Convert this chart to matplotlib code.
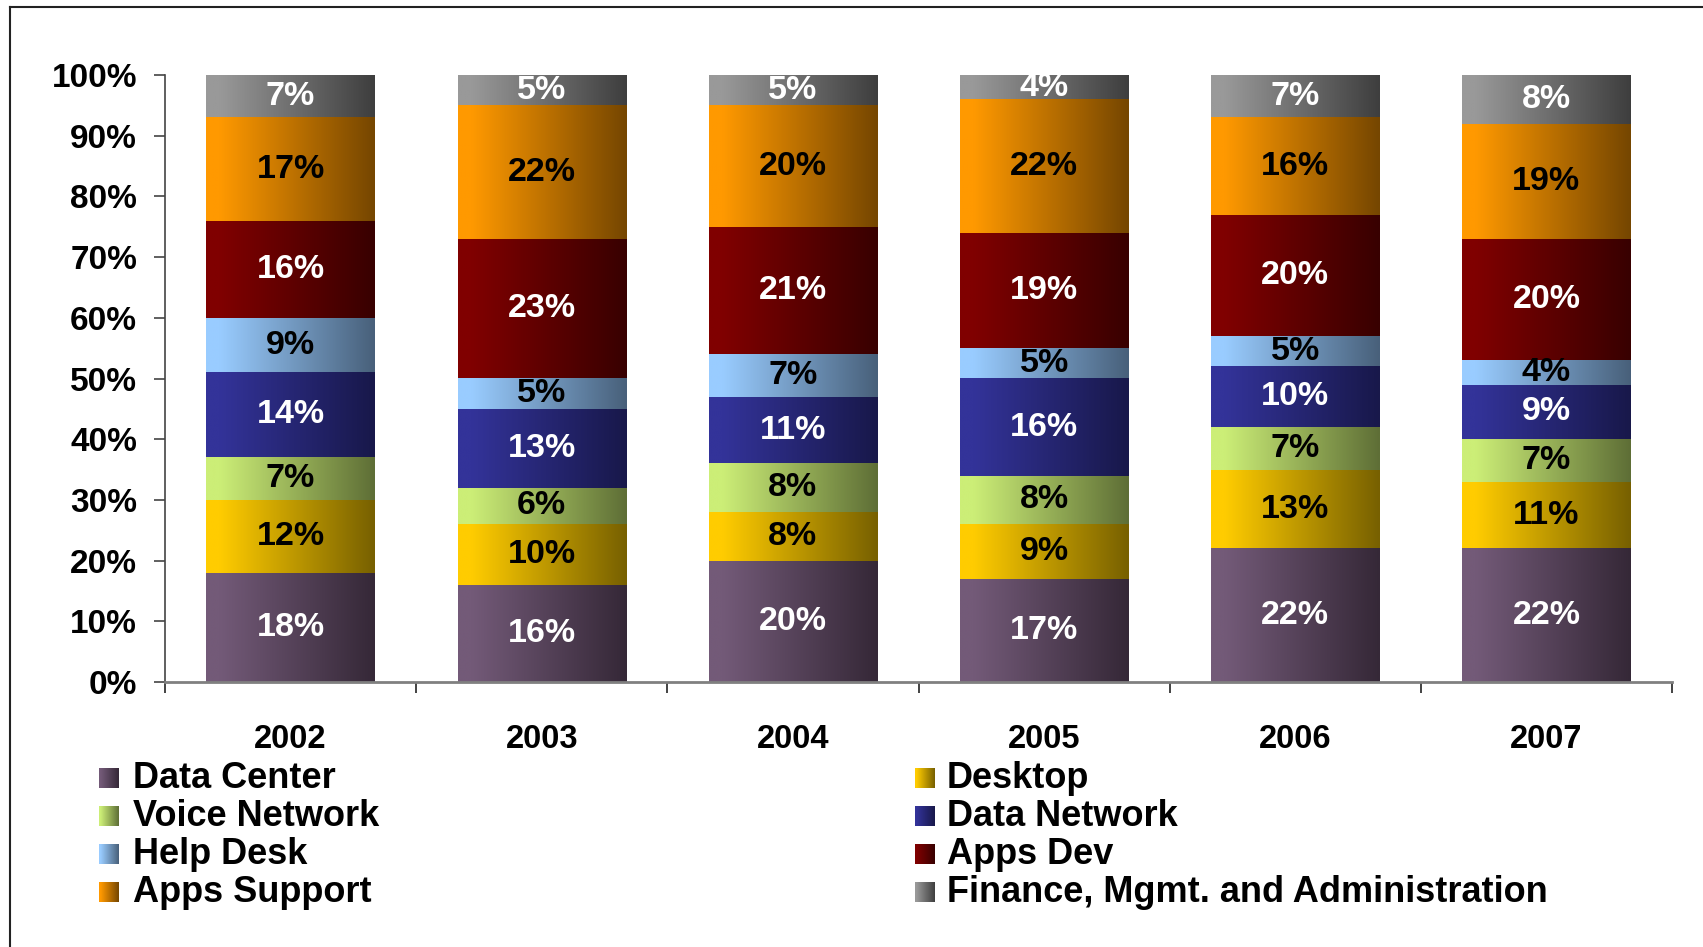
import numpy as np
import matplotlib
matplotlib.use('Agg')
import matplotlib.pyplot as plt
from matplotlib.colors import to_rgb
from matplotlib.lines import Line2D

plt.rcParams['font.family'] = ['Liberation Sans', 'DejaVu Sans']
plt.rcParams['font.weight'] = 'bold'

years = ['2002', '2003', '2004', '2005', '2006', '2007']
series = ['Data Center', 'Desktop', 'Voice Network', 'Data Network',
          'Help Desk', 'Apps Dev', 'Apps Support',
          'Finance, Mgmt. and Administration']
data_center = [18, 16, 20, 17, 22, 22]
desktop = [12, 10, 8, 9, 13, 11]
voice_network = [7, 6, 8, 8, 7, 7]
data_network = [14, 13, 11, 16, 10, 9]
help_desk = [9, 5, 7, 5, 5, 4]
apps_dev = [16, 23, 21, 19, 20, 20]
apps_support = [17, 22, 20, 22, 16, 19]
finance = [7, 5, 5, 4, 7, 8]
values = [data_center, desktop, voice_network, data_network,
          help_desk, apps_dev, apps_support, finance]

light = ['#735A78', '#FFCC00', '#CCEE77', '#333399',
         '#99CCFF', '#800000', '#FF9900', '#999999']
dark = ['#352837', '#776000', '#5E6E36', '#18184A',
        '#48607A', '#380000', '#754600', '#3E3E3E']
label_colors = ['white', 'black', 'black', 'white',
                'black', 'white', 'black', 'white']


def gradient(c0, c1, n=256):
    a = np.array(to_rgb(c0))
    b = np.array(to_rgb(c1))
    t = np.linspace(0, 1, n)
    t = np.clip((t - 0.08) / 0.92, 0, 1)
    img = a[None, :] * (1 - t[:, None]) + b[None, :] * t[:, None]
    return img[None, :, :]


W, H = 1703, 947
fig = plt.figure(figsize=(W / 100, H / 100), dpi=100)
ax = fig.add_axes([165 / W, 1 - 682 / H, (1672 - 165) / W, (682 - 75) / H])

x = np.arange(len(years))
bottom = np.zeros(len(years))
for i, vals in enumerate(values):
    vals = np.array(vals, dtype=float)
    bars = ax.bar(x, vals, width=0.67, bottom=bottom,
                  color=light[i], edgecolor='none', zorder=1)
    img = gradient(light[i], dark[i])
    for b, v in zip(bars, vals):
        x0, y0 = b.get_x(), b.get_y()
        ax.imshow(img, extent=[x0, x0 + b.get_width(), y0, y0 + b.get_height()],
                  aspect='auto', interpolation='bilinear', zorder=2)
        ax.text(x0 + b.get_width() / 2, y0 + v / 2, f'{int(v)}%',
                ha='center', va='center', fontsize=24.5, fontweight='bold',
                color=label_colors[i], zorder=3)
    bottom += vals

ax.set_xlim(-0.5, len(years) - 0.5)
ax.set_ylim(0, 100)

ax.set_yticks(np.arange(0, 101, 10))
ax.set_yticklabels([f'{v}%' for v in range(0, 101, 10)])
ax.tick_params(axis='y', direction='out', length=8, width=1.2,
               color='#444444', labelsize=24, pad=12)

ax.set_xticks(np.arange(-0.5, len(years), 1))
ax.set_xticklabels([])
ax.set_xticks(x, minor=True)
ax.set_xticklabels(years, minor=True)
ax.tick_params(axis='x', which='major', direction='out', length=8,
               width=1.2, color='#222222')
ax.tick_params(axis='x', which='minor', length=0, labelsize=23.5, pad=30)

for s in ['top', 'right']:
    ax.spines[s].set_visible(False)
ax.spines['left'].set_color('#444444')
ax.spines['left'].set_linewidth(1.2)
ax.spines['bottom'].set_color('#808080')
ax.spines['bottom'].set_linewidth(2)

# overlay in pixel coords for legend and frame
ov = fig.add_axes([0, 0, 1, 1], zorder=5)
ov.set_xlim(0, W)
ov.set_ylim(H, 0)
ov.axis('off')
ov.patch.set_alpha(0)

order = [0, 2, 4, 6, 1, 3, 5, 7]
col_mx = [99, 915]
col_tx = [133, 947]
baselines = [788, 826, 864, 902]
for k, si in enumerate(order):
    col = k // 4
    row = k % 4
    yb = baselines[row]
    ov.imshow(gradient(light[si], dark[si]),
              extent=[col_mx[col], col_mx[col] + 20, yb, yb - 20],
              aspect='auto', interpolation='bilinear')
    ov.text(col_tx[col], yb, series[si], ha='left', va='baseline',
            fontsize=26, fontweight='bold', color='black')
ov.set_xlim(0, W)
ov.set_ylim(H, 0)

ov.add_line(Line2D([10, 10], [H, 7], color='#222222', lw=1.5))
ov.add_line(Line2D([10, W], [7, 7], color='#222222', lw=1.5))

fig.savefig('out.png', dpi=100)
